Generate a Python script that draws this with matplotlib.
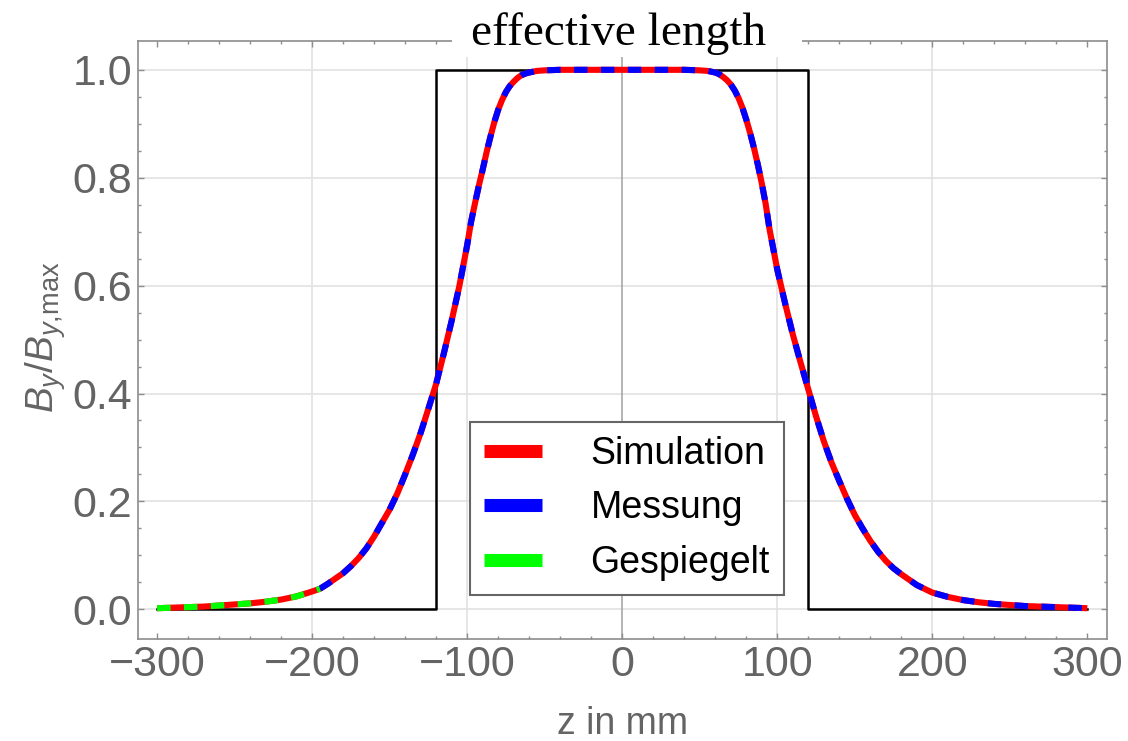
import matplotlib.pyplot as plt
import numpy as np
from matplotlib.lines import Line2D
from matplotlib.patches import Rectangle

plt.rcParams['font.family'] = ['Liberation Sans', 'DejaVu Sans']
plt.rcParams['mathtext.fontset'] = 'custom'
plt.rcParams['mathtext.rm'] = 'Liberation Sans'
plt.rcParams['mathtext.it'] = 'Liberation Sans:italic'

# field profile (z in mm, B_y/B_y,max)
z = [-300, -290, -280, -270, -260, -250, -240, -230, -220, -210, -200, -195,
     -190, -180, -175, -170, -165, -160, -155, -150, -145, -140, -135, -130,
     -125, -120, -115, -110, -105, -100, -97.5, -95, -92.5, -90, -87.5, -85,
     -82.5, -80, -77.5, -75, -72.5, -70, -67.5, -65, -62.5, -60, -55, -50,
     -40, -20, 0, 20, 40, 50, 55, 60, 62.5, 65, 67.5, 70, 72.5, 75, 77.5, 80,
     82.5, 85, 87.5, 90, 92.5, 95, 100, 105, 110, 115, 120, 125, 130, 135,
     140, 145, 150, 155, 160, 165, 170, 175, 180, 190, 200, 210, 220, 230,
     240, 250, 260, 270, 280, 290, 300]
b_sim = [0.002, 0.003, 0.004, 0.005, 0.007, 0.009, 0.011, 0.014, 0.018, 0.024,
         0.033, 0.038, 0.047, 0.067, 0.080, 0.095, 0.113, 0.135, 0.160, 0.185,
         0.215, 0.250, 0.287, 0.327, 0.372, 0.418, 0.475, 0.535, 0.600, 0.675,
         0.718, 0.752, 0.785, 0.815, 0.847, 0.876, 0.903, 0.926, 0.944, 0.959,
         0.970, 0.978, 0.985, 0.990, 0.993, 0.995, 0.998, 0.999, 1.000, 1.000,
         1.000, 1.000, 1.000, 0.999, 0.998, 0.995, 0.992, 0.987, 0.981, 0.973,
         0.962, 0.948, 0.930, 0.908, 0.883, 0.855, 0.824, 0.790, 0.752, 0.705,
         0.630, 0.568, 0.510, 0.458, 0.408, 0.358, 0.312, 0.272, 0.238, 0.205,
         0.175, 0.150, 0.127, 0.107, 0.090, 0.076, 0.065, 0.045, 0.031, 0.023,
         0.017, 0.013, 0.010, 0.008, 0.006, 0.005, 0.004, 0.003, 0.002]
z_mess_start = -195  # measurement starts here, mirrored data fills the rest
eff_len = 120  # half effective length in mm

labels = ['Simulation', 'Messung', 'Gespiegelt']
colors = ['#ff0000', '#0000ff', '#00ff00']

z = np.array(z)
b_sim = np.array(b_sim)
mess = z >= z_mess_start
mirr = z <= z_mess_start

fig = plt.figure(figsize=(11.28, 7.41), dpi=100)
ax = fig.add_axes([0.1221, 0.1377, 0.859, 0.8074])

gray = '#646464'
for x in [-200, -100, 100, 200]:
    ax.axvline(x, color='#e2e2e2', lw=1.2, zorder=0)
for y in [0, 0.2, 0.4, 0.6, 0.8, 1.0]:
    ax.axhline(y, color='#e2e2e2', lw=1.2, zorder=0)
ax.axvline(0, color='#a8a8a8', lw=1.2, zorder=0.5)

# effective length box
ax.plot([-300, -eff_len, -eff_len, eff_len, eff_len, 300],
        [0, 0, 1, 1, 0, 0], color='black', lw=1.8, zorder=2)

lw = 4.4
ax.plot(z, b_sim, color=colors[0], lw=lw, zorder=3, solid_capstyle='butt',
        solid_joinstyle='round')
ax.plot(z[mess], b_sim[mess], color=colors[1], lw=lw, zorder=4,
        linestyle=(0, (2.2, 2.2)), dash_capstyle='butt')
ax.plot(z[mirr], b_sim[mirr], color=colors[2], lw=lw, zorder=4,
        linestyle=(0, (2.2, 2.2)), dash_capstyle='butt')

ax.set_xlim(-312.5, 312.5)
ax.set_ylim(-0.055, 1.054)
ax.set_xticks(np.arange(-300, 301, 100))
ax.set_xticks(np.arange(-300, 301, 20), minor=True)
ax.set_yticks(np.arange(0, 1.01, 0.2))
ax.set_yticks(np.arange(0, 1.01, 0.05), minor=True)
ax.set_yticklabels(['0.0', '0.2', '0.4', '0.6', '0.8', '1.0'])

for s in ax.spines.values():
    s.set_color('#8c8c8c')
    s.set_linewidth(1.2)
ax.tick_params(which='both', direction='in', top=True, right=True,
               color='#8c8c8c', width=1)
ax.tick_params(which='major', length=4.5, labelsize=31, labelcolor=gray, pad=4)
ax.tick_params(which='minor', length=2.5)

ax.set_xlabel('z in mm', fontsize=27, color=gray)
ax.xaxis.set_label_coords(0.5, -0.112)
ax.set_ylabel(r'$B_y/B_{y{,}\mathrm{max}}$', fontsize=28, color=gray)
ax.yaxis.set_label_coords(-0.072, 0.505)

handles = [Line2D([], [], color=c, lw=9.4, solid_capstyle='butt') for c in colors]
leg = ax.legend(handles, labels, loc='upper left', bbox_to_anchor=(0.343, 0.363),
                borderaxespad=0, fontsize=27, handlelength=1.55,
                handletextpad=1.28, labelspacing=0.49, borderpad=0.38,
                fancybox=False, framealpha=1, edgecolor='#666666')
leg.get_frame().set_linewidth(1.5)

# title sits on a white patch over the top frame
fig.patches.append(Rectangle((452 / 1128, 1 - 57 / 741), 350 / 1128, 57 / 741,
                             transform=fig.transFigure, facecolor='white',
                             edgecolor='none', zorder=2))
fig.text(618.4 / 1128, 1 - 45 / 741, 'effective length', fontsize=34,
         family='Liberation Serif', ha='center', va='baseline', zorder=3)

plt.savefig('out.png', dpi=100)
